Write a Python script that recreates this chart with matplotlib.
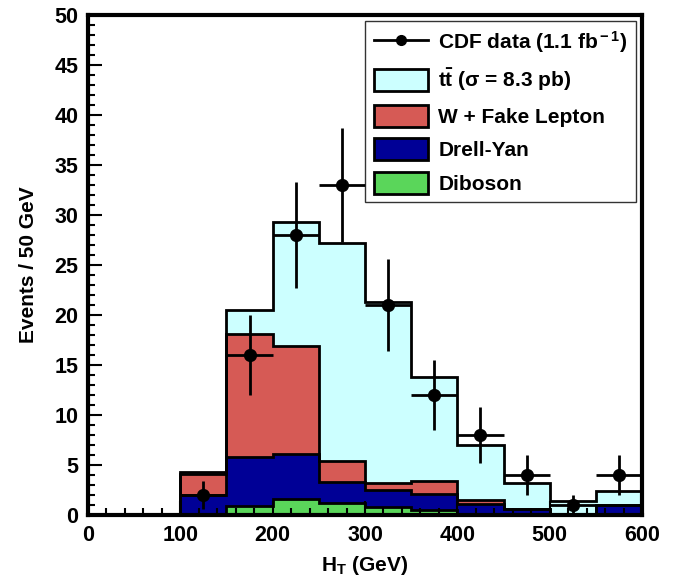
import numpy as np
import matplotlib
matplotlib.use('Agg')
import matplotlib.pyplot as plt
from matplotlib.patches import Patch
from matplotlib.lines import Line2D
from matplotlib.ticker import MultipleLocator

plt.rcParams['font.family'] = ['Liberation Sans', 'DejaVu Sans']
plt.rcParams['font.weight'] = 'bold'
plt.rcParams['axes.labelweight'] = 'bold'
plt.rcParams['mathtext.fontset'] = 'custom'
plt.rcParams['mathtext.rm'] = 'Liberation Sans:bold'
plt.rcParams['mathtext.bf'] = 'Liberation Sans:bold'
plt.rcParams['mathtext.it'] = 'Liberation Sans:bold'

# H_T bins (GeV)
edges = np.arange(0, 601, 50)

# stacked backgrounds, bottom to top
diboson = [0, 0, 0, 0.9, 1.6, 1.2, 0.8, 0.5, 0.15, 0.05, 0, 0]
drellyan = [0, 0, 2.0, 4.9, 4.5, 2.1, 1.7, 1.6, 0.95, 0.55, 0.05, 1.0]
wfake = [0, 0, 2.1, 12.3, 10.8, 2.1, 0.7, 1.3, 0.4, 0.05, 0, 0]
ttbar = [0, 0, 0.2, 2.4, 12.4, 21.8, 18.1, 10.4, 5.5, 2.6, 1.35, 1.4]

# CDF data
data_x = [125, 175, 225, 275, 325, 375, 425, 475, 525, 575]
data_y = [2, 16, 28, 33, 21, 12, 8, 4, 1, 4]
data_err = [1.4, 4.0, 5.3, 5.7, 4.6, 3.5, 2.8, 2.0, 1.0, 2.0]

layers = [diboson, drellyan, wfake, ttbar]
colors = ['#5ad65a', '#000096', '#d65a55', '#ccffff']
names = ['Diboson', 'Drell-Yan', 'W + Fake Lepton', r't$\bar{\rm t}$ (σ = 8.3 pb)']

fig = plt.figure(figsize=(6.83, 5.79), dpi=100)
ax = fig.add_axes([0.1288, 0.1105, 0.8112, 0.8636])

cum = np.cumsum(np.array(layers), axis=0)

# fills, top layer first
for i in range(len(layers) - 1, -1, -1):
    ax.stairs(cum[i], edges, baseline=0, fill=True, color=colors[i], lw=0, zorder=1)
# outlines
for i in range(len(layers) - 1, -1, -1):
    ax.stairs(cum[i], edges, baseline=0, fill=False, color='black', lw=2.0, zorder=2)

ax.errorbar(data_x, data_y, yerr=data_err, xerr=25, fmt='o', color='black',
            ms=8.5, lw=2.0, capsize=0, zorder=5)

ax.set_xlim(0, 600)
ax.set_ylim(0, 50)
ax.xaxis.set_major_locator(MultipleLocator(100))
ax.xaxis.set_minor_locator(MultipleLocator(20))
ax.yaxis.set_major_locator(MultipleLocator(5))
ax.yaxis.set_minor_locator(MultipleLocator(1))
ax.tick_params(which='both', direction='in', width=1.5, labelsize=15.5, pad=7)
ax.tick_params(which='major', length=10)
ax.tick_params(which='minor', length=5)
for s in ax.spines.values():
    s.set_linewidth(3)

ax.set_xlabel(r'H$_{\rm T}$ (GeV)', fontsize=15, labelpad=6)
ax.set_ylabel('Events / 50 GeV', fontsize=15, labelpad=12)

handles = [Line2D([0], [0], color='black', lw=2, marker='o', ms=7)]
labels = [r'CDF data (1.1 fb$^{\rm -1}$)']
for i in range(len(layers) - 1, -1, -1):
    handles.append(Patch(facecolor=colors[i], edgecolor='black', lw=2))
    labels.append(names[i])

leg = ax.legend(handles, labels, loc='upper right',
                bbox_to_anchor=(636 / 683, 1 - 21 / 579),
                bbox_transform=fig.transFigure, borderaxespad=0,
                fontsize=15, frameon=True, fancybox=False,
                handlelength=2.6, handleheight=1.25, labelspacing=0.55,
                handletextpad=0.5, borderpad=0.4)
leg.get_frame().set_edgecolor('black')
leg.get_frame().set_linewidth(1)

fig.savefig('out.png', dpi=100)
